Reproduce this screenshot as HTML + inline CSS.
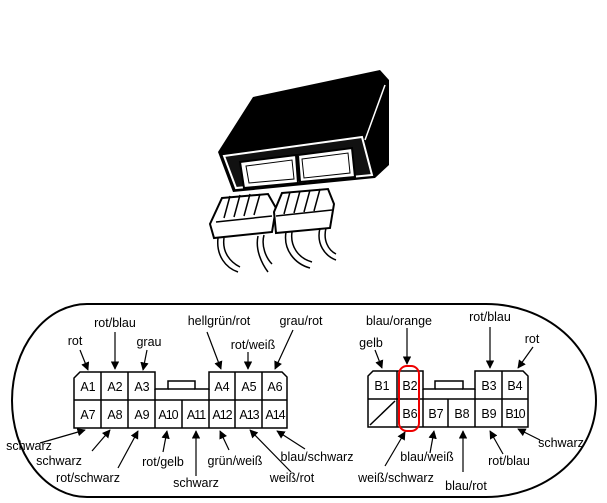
<!DOCTYPE html>
<html><head><meta charset="utf-8"><style>
html,body{margin:0;padding:0;background:#fff;width:607px;height:503px;overflow:hidden}
svg text{font-family:"Liberation Sans",sans-serif;font-size:12.5px;fill:#000}
</style></head><body>
<svg width="607" height="503" viewBox="0 0 607 503" xmlns="http://www.w3.org/2000/svg">
<defs><marker id="a" viewBox="0 0 10 10" refX="9" refY="5" markerWidth="7" markerHeight="7" orient="auto"><path d="M0,0 L10,5 L0,10 Z" fill="#000"/></marker></defs>
<!-- ECU -->
<polygon points="253,97 380,70 389,80 389,165 375,178 233,192 218,152" fill="#000"/>
<polygon points="224,156 362,137 372,175 236,188" fill="#111" stroke="#fff" stroke-width="2"/>
<polygon points="240,162 296,155 298,183 244,188" fill="#fff" stroke="#000" stroke-width="2"/>
<polygon points="298,155 352,148 355,177 300,182" fill="#fff" stroke="#000" stroke-width="2"/>
<polygon points="246,166 292,160 294,179 249,183" fill="none" stroke="#000"/>
<polygon points="302,159 348,153 350,173 304,178" fill="none" stroke="#000"/>
<line x1="365" y1="140" x2="385" y2="85" stroke="#fff" stroke-width="1.5"/>
<!-- plugs -->
<g fill="#fff" stroke="#000" stroke-width="2">
<polygon points="222,198 268,194 276,208 272,232 214,238 210,224"/>
<polygon points="282,193 328,189 334,204 330,228 276,233 274,212"/>
</g>
<g stroke="#000" stroke-width="1.5" fill="none">
<line x1="216" y1="222" x2="272" y2="216"/><line x1="276" y1="216" x2="332" y2="210"/>
<path d="M230,196 L224,218 M240,195 L234,217 M250,194 L244,216 M260,194 L254,215"/>
<path d="M290,192 L284,214 M300,191 L294,213 M310,190 L304,212 M320,189 L314,211"/>
<path d="M218,238 C216,256 226,268 238,272 M224,238 C222,252 230,262 240,267 M258,236 C255,250 262,264 268,272 M264,235 C261,246 266,258 272,264"/>
<path d="M286,232 C283,250 295,264 310,268 M292,232 C290,246 298,258 312,262 M320,228 C316,244 325,256 336,260 M326,228 C323,240 328,250 336,254"/>
</g>
<!-- outline -->
<path d="M87,304 H486 A110,96.5 0 0 1 486,497 H87 A75,96.5 0 0 1 87,304 Z" fill="none" stroke="#000" stroke-width="2"/>
<!-- A connector -->
<g fill="none" stroke="#000" stroke-width="1.5">
<path d="M80,372 H155 V389 H168 V381 H195 V389 H209 V372 H282 L287,377 V428 H74 V378 Z"/>
<line x1="168" y1="389" x2="195" y2="389"/>
<line x1="74" y1="400" x2="287" y2="400"/>
<path d="M101,372 V428 M128,372 V428 M155,389 V428 M182,400 V428 M209,389 V428 M235,372 V428 M262,372 V428"/>
<!-- B connector -->
<path d="M373,371 H423 V389 H435 V381 H463 V389 H475 V371 H523 L528,376 V427 H368 V376 Z"/>
<line x1="435" y1="389" x2="463" y2="389"/>
<line x1="368" y1="399" x2="528" y2="399"/>
<path d="M397,371 V427 M423,389 V427 M448,399 V427 M475,389 V427 M502,371 V427"/>
<line x1="370" y1="425" x2="395" y2="401"/>
</g>
<rect x="399" y="366" width="20" height="65" rx="8" fill="none" stroke="#e00" stroke-width="2"/>
<g font-size="13" text-anchor="middle">
<text x="88" y="391">A1</text><text x="115" y="391">A2</text><text x="142" y="391">A3</text>
<text x="222" y="391">A4</text><text x="249" y="391">A5</text><text x="275" y="391">A6</text>
<text x="88" y="419">A7</text><text x="115" y="419">A8</text><text x="142" y="419">A9</text>
<text x="168" y="419" letter-spacing="-1">A10</text><text x="196" y="419" letter-spacing="-1">A11</text><text x="222" y="419" letter-spacing="-1">A12</text><text x="249" y="419" letter-spacing="-1">A13</text><text x="275" y="419" letter-spacing="-1">A14</text>
<text x="382" y="390">B1</text><text x="410" y="390">B2</text><text x="489" y="390">B3</text><text x="515" y="390">B4</text>
<text x="410" y="418">B6</text><text x="436" y="418">B7</text><text x="462" y="418">B8</text><text x="489" y="418">B9</text><text x="515" y="418" letter-spacing="-1">B10</text>
</g>
<g stroke="#000" stroke-width="1.2" marker-end="url(#a)">
<line x1="80" y1="350" x2="88" y2="370"/><line x1="115" y1="332" x2="115" y2="369"/><line x1="147" y1="350" x2="143" y2="370"/>
<line x1="207" y1="332" x2="221" y2="369"/><line x1="248" y1="352" x2="248" y2="369"/><line x1="293" y1="330" x2="275" y2="369"/>
<line x1="375" y1="350" x2="382" y2="368"/><line x1="407" y1="328" x2="407" y2="364"/><line x1="490" y1="327" x2="490" y2="368"/><line x1="533" y1="347" x2="518" y2="368"/>
<line x1="40" y1="443" x2="85" y2="430"/><line x1="92" y1="451" x2="110" y2="430"/><line x1="118" y1="468" x2="138" y2="431"/>
<line x1="163" y1="452" x2="167" y2="431"/><line x1="196" y1="476" x2="196" y2="431"/><line x1="229" y1="450" x2="220" y2="431"/>
<line x1="291" y1="472" x2="250" y2="430"/><line x1="305" y1="449" x2="277" y2="431"/>
<line x1="385" y1="466" x2="405" y2="432"/><line x1="430" y1="453" x2="434" y2="431"/><line x1="463" y1="472" x2="463" y2="431"/>
<line x1="503" y1="454" x2="490" y2="431"/><line x1="540" y1="440" x2="518" y2="429"/>
</g>
<g text-anchor="middle">
<text x="75" y="345">rot</text><text x="115" y="327">rot/blau</text><text x="149" y="346">grau</text>
<text x="219" y="325">hellgrün/rot</text><text x="253" y="349">rot/weiß</text><text x="301" y="325">grau/rot</text>
<text x="371" y="347">gelb</text><text x="399" y="325">blau/orange</text><text x="490" y="321">rot/blau</text><text x="532" y="343">rot</text>
<text x="29" y="450">schwarz</text><text x="59" y="465">schwarz</text><text x="88" y="482">rot/schwarz</text>
<text x="163" y="466">rot/gelb</text><text x="196" y="487">schwarz</text><text x="235" y="465">grün/weiß</text>
<text x="292" y="482">weiß/rot</text><text x="317" y="461">blau/schwarz</text>
<text x="396" y="482">weiß/schwarz</text><text x="427" y="461">blau/weiß</text><text x="466" y="490">blau/rot</text>
<text x="509" y="465">rot/blau</text><text x="561" y="447">schwarz</text>
</g>
</svg>
</body></html>
